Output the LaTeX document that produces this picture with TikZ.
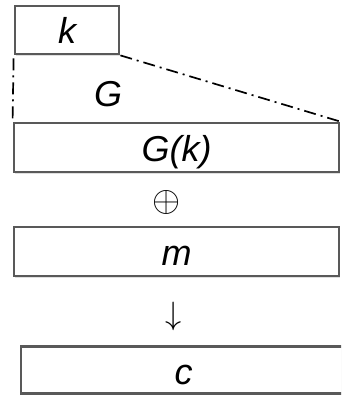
\documentclass[tikz,border=0pt]{standalone}
\usepackage{fontspec}
\setmainfont{Liberation Sans}
\usetikzlibrary{shadows}
\begin{document}
\begin{tikzpicture}[x=1pt,y=-1pt,
  box/.style={draw=black!65, line width=2.8pt, fill=white, inner sep=0pt,
    text height=34pt, text depth=6pt,
    font=\fontsize{36}{40}\selectfont\itshape,
    drop shadow={opacity=0.25, shadow xshift=0.8pt, shadow yshift=-1.8pt}},
  lbl/.style={inner sep=0pt, font=\fontsize{36}{40}\selectfont\itshape},
  sym/.style={inner sep=0pt},
  dd/.style={line width=1.7pt, dash pattern=on 12pt off 5pt on 2pt off 5pt}]
\useasboundingbox (0,0) rectangle (341,395);
\clip (0,0) rectangle (341,395);
\node[box, minimum width=104pt, minimum height=48pt] (k) at (67,30) {k};
\node[box, minimum width=325pt, minimum height=49pt] (gk) at (176.5,147.5) {G(k)};
\node[box, minimum width=325pt, minimum height=49pt] (m) at (176.5,251.5) {m};
\node[box, minimum width=325pt, minimum height=47pt] (c) at (183.5,370) {c};
\node[lbl] (g) at (108,94) {G};
\node[sym, font=\fontsize{24}{28}\selectfont] (xor) at (167,202) {\scalebox{1.45}{$\oplus$}};
\node[sym, font=\fontsize{24}{28}\selectfont] (arr) at (174,316) {\scalebox{1.3}{$\downarrow$}};
\draw[dd] (k.south east) -- (gk.north east);
\draw[dd] ([yshift=-3pt]k.south west) -- ([yshift=3pt]gk.north west);
\end{tikzpicture}
\end{document}
